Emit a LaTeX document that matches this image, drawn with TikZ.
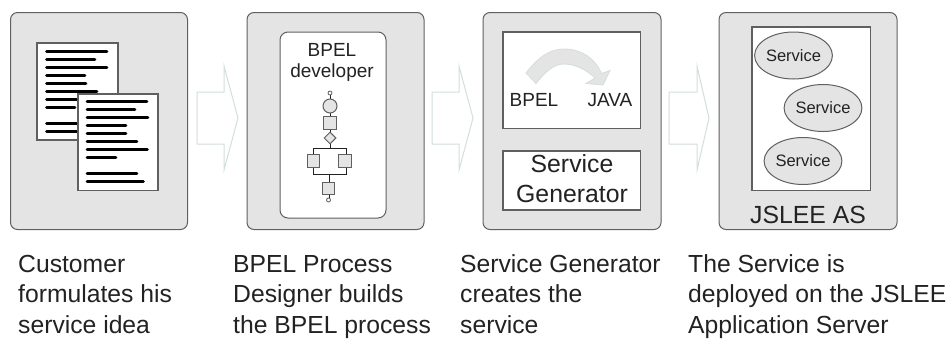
\documentclass[tikz,border=0pt]{standalone}
\usepackage{fontspec}
\setmainfont{Liberation Sans}
\usetikzlibrary{shapes.geometric}
\definecolor{panelgray}{HTML}{E4E4E4}
\definecolor{edgegray}{HTML}{606060}
\definecolor{arrowgreen}{HTML}{D3DFD8}
\definecolor{inkgray}{HTML}{222222}
\newcommand{\capstrut}{\rule{0pt}{20pt}}
\tikzset{
  panel/.style={draw=edgegray,fill=panelgray,line width=1pt,rounded corners=7pt},
  whitebox/.style={draw=edgegray,fill=white,line width=1.2pt},
  flowarrow/.style={draw=arrowgreen,fill=white,line width=1pt},
  textbar/.style={line width=2.8pt,black,line cap=round},
  bpmn/.style={draw=edgegray,fill=panelgray,line width=1pt},
  bpmnline/.style={draw=inkgray,line width=1pt},
  servicenode/.style={ellipse,draw=edgegray,fill=panelgray,line width=1pt,minimum width=70pt,minimum height=47pt,inner sep=0pt,font=\fontsize{16.5}{18}\selectfont,text=inkgray},
  label/.style={inner sep=0pt,text=inkgray},
  caption/.style={inner sep=0pt,anchor=north west,align=left,font=\fontsize{24.7}{30.6}\selectfont,text=inkgray}
}
\begin{document}
\begin{tikzpicture}[x=1pt,y=-1pt]
\useasboundingbox (0,0) rectangle (949,338);
% panels
\draw[panel] (10.5,12.5) rectangle (187.5,229.5);
\draw[panel] (247,12.5) rectangle (424,229.5);
\draw[panel] (483,12.5) rectangle (661,229.5);
\draw[panel] (719,12.5) rectangle (897,229.5);
% flow arrows
\draw[flowarrow] (197,92)--(224,92)--(224,66)--(238,118)--(224,170)--(224,144)--(197,144)--cycle;
\draw[flowarrow] (432,92)--(459,92)--(459,66)--(473,118)--(459,170)--(459,144)--(432,144)--cycle;
\draw[flowarrow] (669,92)--(697,92)--(697,66)--(709,118)--(697,170)--(697,144)--(669,144)--cycle;
% documents
\draw[whitebox] (37,43) rectangle (118,140);
\foreach \yy/\xe in {51.5/107,59.5/95,67.5/107,75.5/85,83.5/86,91.5/97,99.5/85,107.5/75,123.5/85,131.5/85}
  \draw[textbar] (46.5,\yy)--(\xe,\yy);
\draw[whitebox] (78,94) rectangle (158,190.5);
\foreach \yy/\xe in {101.5/147,109.5/135,117.5/148,125.5/126,133.5/126,141.5/137,149.5/147.5,157.5/116,173.5/137,181.5/143.5}
  \draw[textbar] (87,\yy)--(\xe,\yy);
% BPEL developer
\draw[draw=edgegray,fill=white,line width=1pt,rounded corners=8pt] (280,32) rectangle (386,218);
\node[label,font=\fontsize{19}{21}\selectfont] (bpeltitle) at (332,49.5) {BPEL};
\node[label,font=\fontsize{19}{21}\selectfont] (bpeldev) at (332,73) {developer};
\draw[bpmnline] (330,95)--(330,99);
\draw[bpmnline] (330,113)--(330,117);
\draw[bpmnline] (330,129)--(330,132);
\draw[bpmnline] (330,144)--(330,148);
\draw[bpmnline] (313.5,155)--(313.5,148)--(346,148)--(346,155);
\draw[bpmnline] (313.5,167)--(313.5,174.5)--(346,174.5)--(346,167);
\draw[bpmnline] (329,174.5)--(329,182);
\draw[bpmnline] (329,195)--(329,198);
\node[circle,draw=edgegray,fill=white,line width=.8pt,minimum size=4pt,inner sep=0pt] (startdot) at (330,93) {};
\node[circle,bpmn,minimum size=14pt,inner sep=0pt] (startc) at (330,106) {};
\node[rectangle,bpmn,minimum size=12.5pt,inner sep=0pt] (task1) at (330,123) {};
\node[diamond,bpmn,minimum size=12pt,inner sep=0pt] (gate) at (330,138) {};
\node[rectangle,bpmn,minimum size=12.5pt,inner sep=0pt] (taskl) at (313.5,161) {};
\node[rectangle,bpmn,minimum size=12.5pt,inner sep=0pt] (taskr) at (345,161) {};
\node[rectangle,bpmn,minimum size=12.5pt,inner sep=0pt] (task2) at (328.5,188.5) {};
\node[circle,draw=edgegray,fill=white,line width=.8pt,minimum size=4pt,inner sep=0pt] (enddot) at (328.5,200) {};
% Service generator panel
\draw[whitebox] (503,32) rectangle (640.5,128.5);
\draw[whitebox] (503,151) rectangle (640.5,210);
\draw[draw=arrowgreen,fill=panelgray,line width=.8pt]
  (526,73) .. controls (539,56) and (551,49) .. (564,49)
  .. controls (581,49) and (595,58) .. (601.5,73.5)
  -- (610,70.5) -- (603,85) -- (586,83.5) -- (595,78)
  .. controls (586,69) and (574,64) .. (564,64)
  .. controls (554,64) and (546,71) .. (536,83.5) -- cycle;
\node[label,font=\fontsize{19}{21}\selectfont] (bpelsrc) at (534,100) {BPEL};
\node[label,font=\fontsize{19}{21}\selectfont] (javadst) at (610,100) {JAVA};
\node[label,font=\fontsize{24.8}{27}\selectfont] (sg1) at (572,164) {Service};
\node[label,font=\fontsize{24.8}{27}\selectfont] (sg2) at (572,194) {Generator};
% JSLEE
\draw[whitebox] (752,27) rectangle (870.5,190.5);
\node[servicenode] (s1) at (793.5,55.5) {Service};
\node[servicenode] (s2) at (823,108) {Service};
\node[servicenode] (s3) at (803,161) {Service};
\node[label,font=\fontsize{24.8}{27}\selectfont] (jslee) at (808,215) {JSLEE AS};
% captions
\node[caption] (c1) at (18,252) {\capstrut Customer\\formulates his\\service idea};
\node[caption] (c2) at (233,252) {\capstrut BPEL Process\\Designer builds\\the BPEL process};
\node[caption] (c3) at (460,252) {\capstrut Service Generator\\creates the\\service};
\node[caption] (c4) at (688,252) {\capstrut The Service is\\deployed on the JSLEE\\Application Server};
\end{tikzpicture}
\end{document}
